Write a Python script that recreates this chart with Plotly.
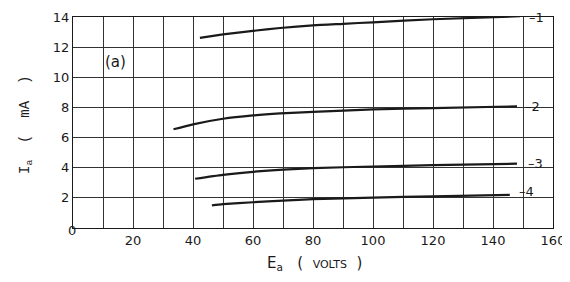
import plotly.graph_objects as go

# Data (plate voltage Ea in volts, plate current Ia in mA)
ea_1 = [42.3, 50, 60, 69, 80, 90, 100, 120, 149]
ia_1 = [12.62, 12.85, 13.08, 13.27, 13.45, 13.55, 13.65, 13.85, 14.05]

ea_2 = [33.5, 40, 50, 60, 69, 80, 100, 120, 148]
ia_2 = [6.55, 6.88, 7.25, 7.47, 7.6, 7.7, 7.87, 7.95, 8.07]

ea_3 = [40.7, 50, 60, 70, 80, 100, 120, 148]
ia_3 = [3.27, 3.53, 3.73, 3.87, 3.97, 4.08, 4.17, 4.27]

ea_4 = [46.3, 50, 60, 70, 80, 100, 120, 145.6]
ia_4 = [1.5, 1.58, 1.71, 1.82, 1.91, 2.02, 2.1, 2.2]

curve_labels = ["–1", "–2", "–3", "–4"]
label_x = [151.3, 150.0, 151.0, 148.0]
label_y = [14.0, 8.07, 4.27, 2.4]

x_ticks = [20, 40, 60, 80, 100, 120, 140, 160]
y_ticks = [2, 4, 6, 8, 10, 12, 14]

FONT = "DejaVu Sans"
INK = "#1a1a1a"
GRID = "#333333"

# page body has an 8px margin; size the figure so the plot area lands where the reference has it
W, H = 562, 274
L, T = 65, 9
PW, PH = 480, 211

fig = go.Figure()
for xs, ys in [(ea_1, ia_1), (ea_2, ia_2), (ea_3, ia_3), (ea_4, ia_4)]:
    fig.add_trace(go.Scatter(x=xs, y=ys, mode="lines",
                             line=dict(color=INK, width=2.2, shape="spline", smoothing=0.6),
                             showlegend=False, hoverinfo="skip"))

for t, lx, ly in zip(curve_labels, label_x, label_y):
    fig.add_annotation(x=lx, y=ly, text=t, showarrow=False, xanchor="left",
                       yanchor="middle", font=dict(family=FONT, size=13, color=INK))

fig.add_annotation(x=14, y=11.0, text="(a)", showarrow=False,
                   font=dict(family=FONT, size=15, color=INK))

# origin label "0"
fig.add_annotation(xref="paper", yref="paper", x=-7 / PW, y=-12 / PH,
                   text="0", showarrow=False, font=dict(family=FONT, size=13, color=INK))

# axis titles
fig.add_annotation(xref="paper", yref="paper", x=241 / PW, y=-47 / PH,
                   text="E<sub>a</sub>   (  <span style='font-size:11px'>VOLTS</span>  )",
                   showarrow=False, font=dict(family=FONT, size=15, color=INK))
fig.add_annotation(xref="paper", yref="paper", x=-58 / PW, y=103 / PH,
                   text="I<sub>a</sub>  (  mA  )",
                   textangle=-90, showarrow=False,
                   font=dict(family="Liberation Mono", size=14, color=INK))

fig.update_xaxes(range=[0, 160], tickvals=x_ticks, automargin=False,
                 showgrid=True, gridcolor=GRID, gridwidth=1, zeroline=False,
                 minor=dict(dtick=10, tick0=0, showgrid=True, gridcolor=GRID, gridwidth=1),
                 showline=True, linecolor=INK, linewidth=1.2, mirror=True,
                 ticks="", tickfont=dict(family=FONT, size=13, color=INK))
fig.update_yaxes(range=[0, 14], tickvals=y_ticks, automargin=False,
                 showgrid=True, gridcolor=GRID, gridwidth=1, zeroline=False,
                 showline=True, linecolor=INK, linewidth=1.2, mirror=True,
                 ticks="", tickfont=dict(family=FONT, size=13, color=INK))

fig.update_layout(width=W, height=H,
                  margin=dict(l=L, r=W - L - PW, t=T, b=H - T - PH, autoexpand=False),
                  paper_bgcolor="white", plot_bgcolor="white",
                  font=dict(family=FONT, size=12, color=INK))

fig.write_html("out.html")
